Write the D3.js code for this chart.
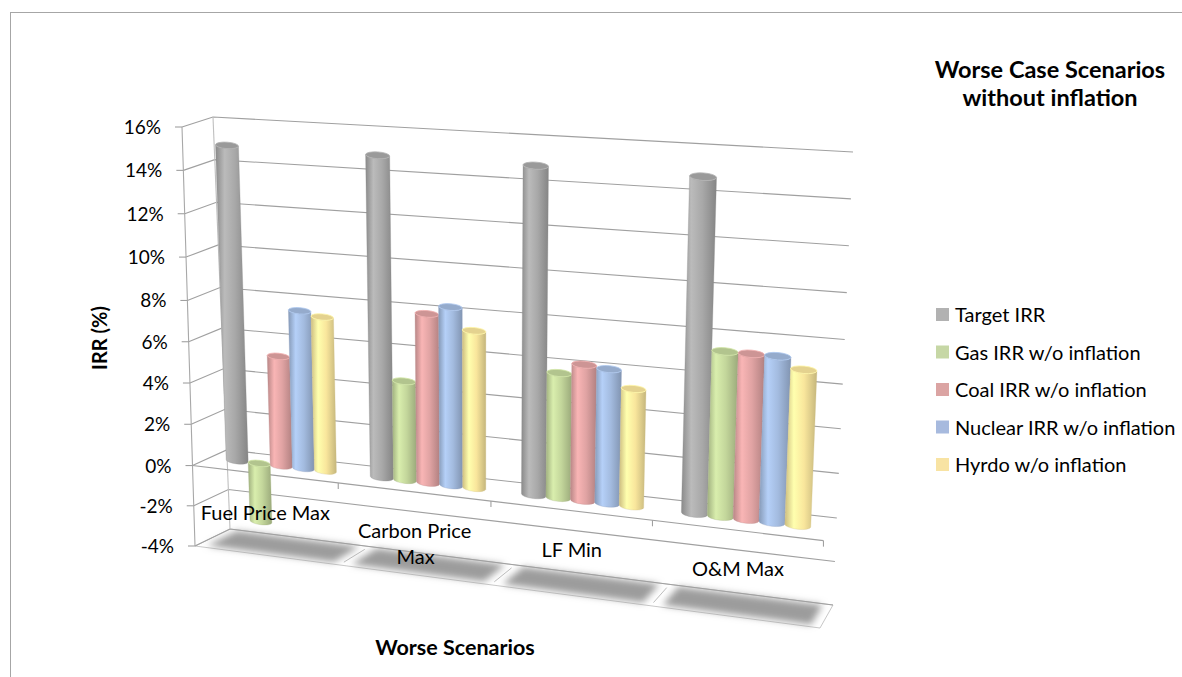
<!DOCTYPE html>
<html><head><meta charset="utf-8">
<script src="https://cdn.jsdelivr.net/npm/d3@7"></script>
<style>
body{margin:0;background:#fff}
svg{display:block}
text{font-family:Lato,"Open Sans",sans-serif;fill:#000}
</style>
</head><body>
<svg id="c" width="1182" height="677"></svg>
<script>
// ---------------- data ----------------
const categories = ["Fuel Price Max","Carbon Price Max","LF Min","O&M Max"];
const seriesNames = ["Target IRR","Gas IRR w/o inflation","Coal IRR w/o inflation","Nuclear IRR w/o inflation","Hyrdo w/o inflation"];
const targetIRR  = [15, 15, 15, 15];
const gasIRR     = [-2.9, 4.7, 5.8, 7.5];
const coalIRR    = [5.3, 8.0, 6.3, 7.5];
const nuclearIRR = [7.6, 8.4, 6.2, 7.5];
const hydroIRR   = [7.4, 7.4, 5.4, 7.0];
const seriesColors = ["#a8a8a8","#c3d69b","#e0a3a3","#a3bbdf","#f9e69c"];
const legendColors = ["#b2b2b2","#c6d7a5","#dba4a3","#a7bade","#f8e3a3"];
const yTickValues = [-4,-2,0,2,4,6,8,10,12,14,16];
const chartTitle = ["Worse Case Scenarios","without inflation"];
const xTitle = "Worse Scenarios";
const yTitle = "IRR (%)";

const seriesValues = [targetIRR, gasIRR, coalIRR, nuclearIRR, hydroIRR];

// ---------------- projection (3D look) ----------------
const svg = d3.select("#c");
const vScale = d3.scaleLinear().domain([-4,0,8,16]).range([0,0.192,0.586,1]);
const uScale = d3.scaleLinear().domain([0,1,2,3,4]).range([0,0.231,0.473,0.729,1]);
const corners = {
  front:{lb:[195,546], lt:[182,127], rb:[820,628], rt:[838,173]},
  back: {lb:[230,529], lt:[213,117], rb:[833,605], rt:[853,152]}
};
const lerp = (a,b,t)=>[a[0]+(b[0]-a[0])*t, a[1]+(b[1]-a[1])*t];
function P(c, v, d){
  const u = uScale(c), t = vScale(v);
  const plane = k=>{const q=corners[k];return lerp(lerp(q.lb,q.lt,t), lerp(q.rb,q.rt,t), u);};
  return lerp(plane("front"), plane("back"), d);
}
const line = pts => "M"+pts.map(p=>p[0].toFixed(2)+","+p[1].toFixed(2)).join("L");

// defs
const defs = svg.append("defs");
defs.append("filter").attr("id","blur").attr("x","-20%").attr("y","-60%").attr("width","140%").attr("height","220%")
  .append("feGaussianBlur").attr("stdDeviation",3.5);
seriesColors.forEach((col,i)=>{
  const g = defs.append("linearGradient").attr("id","g"+i).attr("x1",0).attr("x2",1).attr("y1",0).attr("y2",0);
  const c = d3.color(col);
  [[0,c.darker(0.55)],[0.28,c.brighter(0.3)],[0.6,c],[1,c.darker(0.65)]].forEach(([o,cc])=>
    g.append("stop").attr("offset",o).attr("stop-color",cc.formatHex()));
});

// chart border
svg.append("rect").attr("x",10.5).attr("y",12.5).attr("width",1200).attr("height",700)
  .attr("fill","none").attr("stroke","#a6a6a6").attr("stroke-width",1);

// floor region at minimum (shadowed base)
const vMin = yTickValues[0], vMax = yTickValues[yTickValues.length-1];
const nCat = categories.length;
const base = svg.append("g");
base.append("path").attr("d", line([P(0,vMin,0),P(nCat,vMin,0),P(nCat,vMin,1),P(0,vMin,1)])+"Z")
  .attr("fill","#fff").attr("stroke","#c8c8c8").attr("stroke-width",1);
base.selectAll("path.blob").data(categories).join("path").attr("class","blob")
  .attr("d",(d,i)=>line([P(i+0.06,vMin,0.1),P(i+0.94,vMin,0.1),P(i+0.94,vMin,0.95),P(i+0.06,vMin,0.95)])+"Z")
  .attr("fill","#9c9c9c").attr("filter","url(#blur)");
base.selectAll("path.sep").data(d3.range(1,nCat)).join("path").attr("class","sep")
  .attr("d",i=>line([P(i,vMin,0.15),P(i,vMin,0.85)]))
  .attr("stroke","#777").attr("stroke-width",0.8).attr("opacity",0.6);

// walls & gridlines
const grid = svg.append("g").attr("fill","none").attr("stroke","#a0a0a0").attr("stroke-width",1.1);
yTickValues.forEach(v=>{
  grid.append("path").attr("d", line([P(0,v,0),P(0,v,1),P(nCat,v,1)]));
});
grid.append("path").attr("d", line([P(0,vMin,1),P(0,vMax,1)])).attr("stroke","#c0c0c0");
grid.append("path").attr("d", line([P(0,vMin,0),P(0,vMax,0)])).attr("stroke","#a8a8a8");
yTickValues.forEach(v=>{
  const p=P(0,v,0);
  grid.append("path").attr("d", line([[p[0]-7,p[1]],p]));
});
grid.append("path").attr("d", line([P(0,0,0),P(nCat,0,0)])).attr("stroke","#a0a0a0");
d3.range(1,nCat+1).forEach(i=>{
  const p=P(i,0,0);
  grid.append("path").attr("d", line([p,[p[0],p[1]+6]]));
});

// ---------------- cylinders ----------------
const nS = seriesNames.length;
const gapFrac = 1.5;
const slot = 1/(nS+gapFrac);
const bars = [];
categories.forEach((cat,i)=>{
  seriesValues.forEach((vals,j)=>{
    const c0 = i + slot*gapFrac/2 + j*slot, c1 = c0 + slot;
    bars.push({i,j,c0,c1,v:vals[i]});
  });
});
const gBars = svg.append("g");
bars.forEach(b=>{
  const vTop = Math.max(0,b.v), vBot = Math.min(0,b.v);
  const TL=P(b.c0,vTop,0.5), TR=P(b.c1,vTop,0.5), BL=P(b.c0,vBot,0.5), BR=P(b.c1,vBot,0.5);
  const rx = Math.hypot(TR[0]-TL[0],TR[1]-TL[1])/2;
  const ry = rx*0.28;
  const rot = Math.atan2(TR[1]-TL[1],TR[0]-TL[0])*180/Math.PI;
  const rxb = Math.hypot(BR[0]-BL[0],BR[1]-BL[1])/2;
  const rotb = Math.atan2(BR[1]-BL[1],BR[0]-BL[0])*180/Math.PI;
  const f = v=>v.toFixed(2);
  const body = `M${f(TL[0])},${f(TL[1])}L${f(BL[0])},${f(BL[1])}`+
    `A${f(rxb)},${f(rxb*0.28)} ${f(rotb)} 0 0 ${f(BR[0])},${f(BR[1])}`+
    `L${f(TR[0])},${f(TR[1])}`+
    `A${f(rx)},${f(ry)} ${f(rot)} 0 1 ${f(TL[0])},${f(TL[1])}Z`;
  const col = d3.color(seriesColors[b.j]);
  gBars.append("path").attr("d",body).attr("fill",`url(#g${b.j})`)
    .attr("stroke",col.darker(0.5).formatHex()).attr("stroke-width",0.5).attr("stroke-opacity",0.6);
  const cx=(TL[0]+TR[0])/2, cy=(TL[1]+TR[1])/2;
  gBars.append("ellipse").attr("cx",cx).attr("cy",cy).attr("rx",rx).attr("ry",ry)
    .attr("transform",`rotate(${rot},${cx},${cy})`)
    .attr("fill",col.darker(0.25).formatHex())
    .attr("stroke",col.brighter(0.2).formatHex()).attr("stroke-width",0.8);
});

// ---------------- text ----------------
const fs = 20;
const tl = svg.append("g").attr("font-size",fs);
yTickValues.forEach(v=>{
  const p=P(0,v,0);
  tl.append("text").attr("x",p[0]-21).attr("y",p[1]+7).attr("font-size",19).attr("text-anchor","end").text(v+"%");
});
categories.forEach((cat,i)=>{
  const p=P(i+0.5,0,0);
  const bandW = P(i+1,0,0)[0]-P(i,0,0)[0];
  const t = tl.append("text").attr("text-anchor","middle").attr("x",p[0]).attr("y",p[1]+46).text(cat);
  if (t.node().getComputedTextLength() > bandW) {
    const words = cat.split(" ");
    const last = words.pop();
    t.text(null);
    t.append("tspan").attr("x",p[0]).attr("dy",0).text(words.join(" "));
    t.append("tspan").attr("x",p[0]+1).attr("dy",26).text(last);
  }
});
svg.append("text").attr("x",455).attr("y",655).attr("text-anchor","middle")
  .attr("font-size",21.5).attr("font-weight","bold").text(xTitle);
svg.append("text").attr("transform","translate(107,338) rotate(-90)").attr("text-anchor","middle")
  .attr("font-size",20).attr("font-weight","bold").text(yTitle);
svg.append("g").selectAll("text").data(chartTitle).join("text")
  .attr("x",1050).attr("y",(d,i)=>78+i*28).attr("text-anchor","middle")
  .attr("font-size",23.5).attr("font-weight","bold").text(d=>d);

// legend
const lg = svg.append("g").attr("transform","translate(936,308)");
seriesNames.forEach((s,i)=>{
  const row = lg.append("g").attr("transform",`translate(0,${i*37.5})`);
  row.append("rect").attr("width",13).attr("height",13).attr("fill",legendColors[i]);
  row.append("text").attr("x",19).attr("y",14).attr("font-size",fs).text(s);
});
</script>
</body></html>
